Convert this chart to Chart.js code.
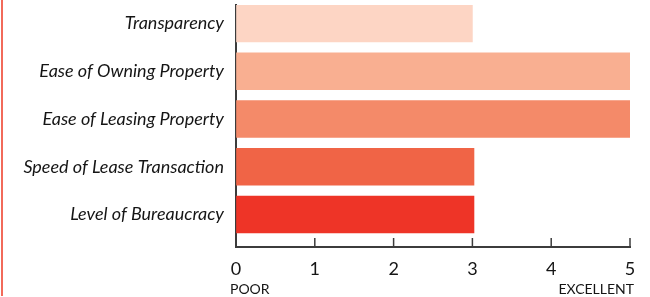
<!DOCTYPE html>
<html>
<head>
<meta charset="utf-8">
<script src="https://cdn.jsdelivr.net/npm/chart.js@4"></script>
<style>
  body { margin: 0; background: #fff; }
  #wrap { position: relative; width: 650px; height: 297px; }
  #edge { position: absolute; left: 1px; top: 0; width: 2px; height: 296px; background: #f26a5a; }
</style>
</head>
<body>
<div id="wrap">
  <div id="edge"></div>
  <canvas id="myChart" width="650" height="297"></canvas>
</div>
<script>
// categories, top to bottom
var categories = ['Transparency', 'Ease of Owning Property', 'Ease of Leasing Property', 'Speed of Lease Transaction', 'Level of Bureaucracy'];
var scores = [3, 5, 5, 3.02, 3.02];
var barColors = ['#fdd5c4', '#f9af91', '#f48a69', '#f06446', '#ee3427'];
var xTicks = [0, 1, 2, 3, 4, 5];
var endLabels = ['POOR', 'EXCELLENT'];

var axisColor = '#3c3c3c';
var textColor = '#151515';

// upward tick marks + POOR / EXCELLENT under the axis
var extras = {
    id: 'extras',
    afterDraw: function(chart) {
        var ctx = chart.ctx;
        var x = chart.scales.x;
        var yb = x.top;
        ctx.save();
        ctx.strokeStyle = axisColor;
        ctx.lineWidth = 1.5;
        x.ticks.forEach(function(t) {
            var px = x.getPixelForValue(t.value);
            ctx.beginPath();
            ctx.moveTo(px, yb);
            ctx.lineTo(px, yb - 9);
            ctx.stroke();
        });
        ctx.fillStyle = textColor;
        ctx.font = '14px Lato';
        ctx.textBaseline = 'middle';
        ctx.textAlign = 'left';
        ctx.fillText(endLabels[0], x.getPixelForValue(xTicks[0]) - 6, 289);
        ctx.textAlign = 'right';
        ctx.fillText(endLabels[1], x.getPixelForValue(xTicks[xTicks.length - 1]) + 4, 289);
        ctx.restore();
    }
};

var ctx = document.getElementById('myChart').getContext('2d');

var myChart = new Chart(ctx, {
    type: 'bar',
    data: {
        datasets: [{
            data: scores.map(function(v, i) { return {x: v, y: i}; }),
            backgroundColor: barColors,
            borderWidth: 0,
            barThickness: 37
        }]
    },
    options: {
        indexAxis: 'y',
        responsive: false,
        animation: false,
        layout: { padding: { left: 0, right: 20, top: 5, bottom: 0 } },
        plugins: { legend: { display: false }, tooltip: { enabled: false } },
        scales: {
            y: {
                type: 'linear',
                reverse: true,
                offset: false,
                min: -0.387,
                max: 4.68,
                afterFit: function(s) { s.width = 236; s.paddingTop = 0; s.paddingBottom = 0; },
                grid: { display: false, drawTicks: false, offset: false },
                border: { display: true, color: axisColor, width: 2 },
                ticks: {
                    stepSize: 1,
                    includeBounds: false,
                    autoSkip: false,
                    padding: 12,
                    color: textColor,
                    font: { family: 'Lato', style: 'italic', size: 18 },
                    callback: function(v) { return categories[v] !== undefined ? categories[v] : ''; }
                }
            },
            x: {
                min: 0,
                max: 5,
                afterFit: function(s) { s.height = 50; s.paddingLeft = 0; s.paddingRight = 0; },
                grid: { display: true, drawOnChartArea: false, drawTicks: false },
                border: { display: true, color: axisColor, width: 2 },
                ticks: {
                    stepSize: 1,
                    padding: 11,
                    color: textColor,
                    font: { family: 'Lato', size: 18 },
                    callback: function(v) { return xTicks.indexOf(v) >= 0 ? String(v) : ''; }
                }
            }
        }
    },
    plugins: [extras]
});
</script>
</body>
</html>
